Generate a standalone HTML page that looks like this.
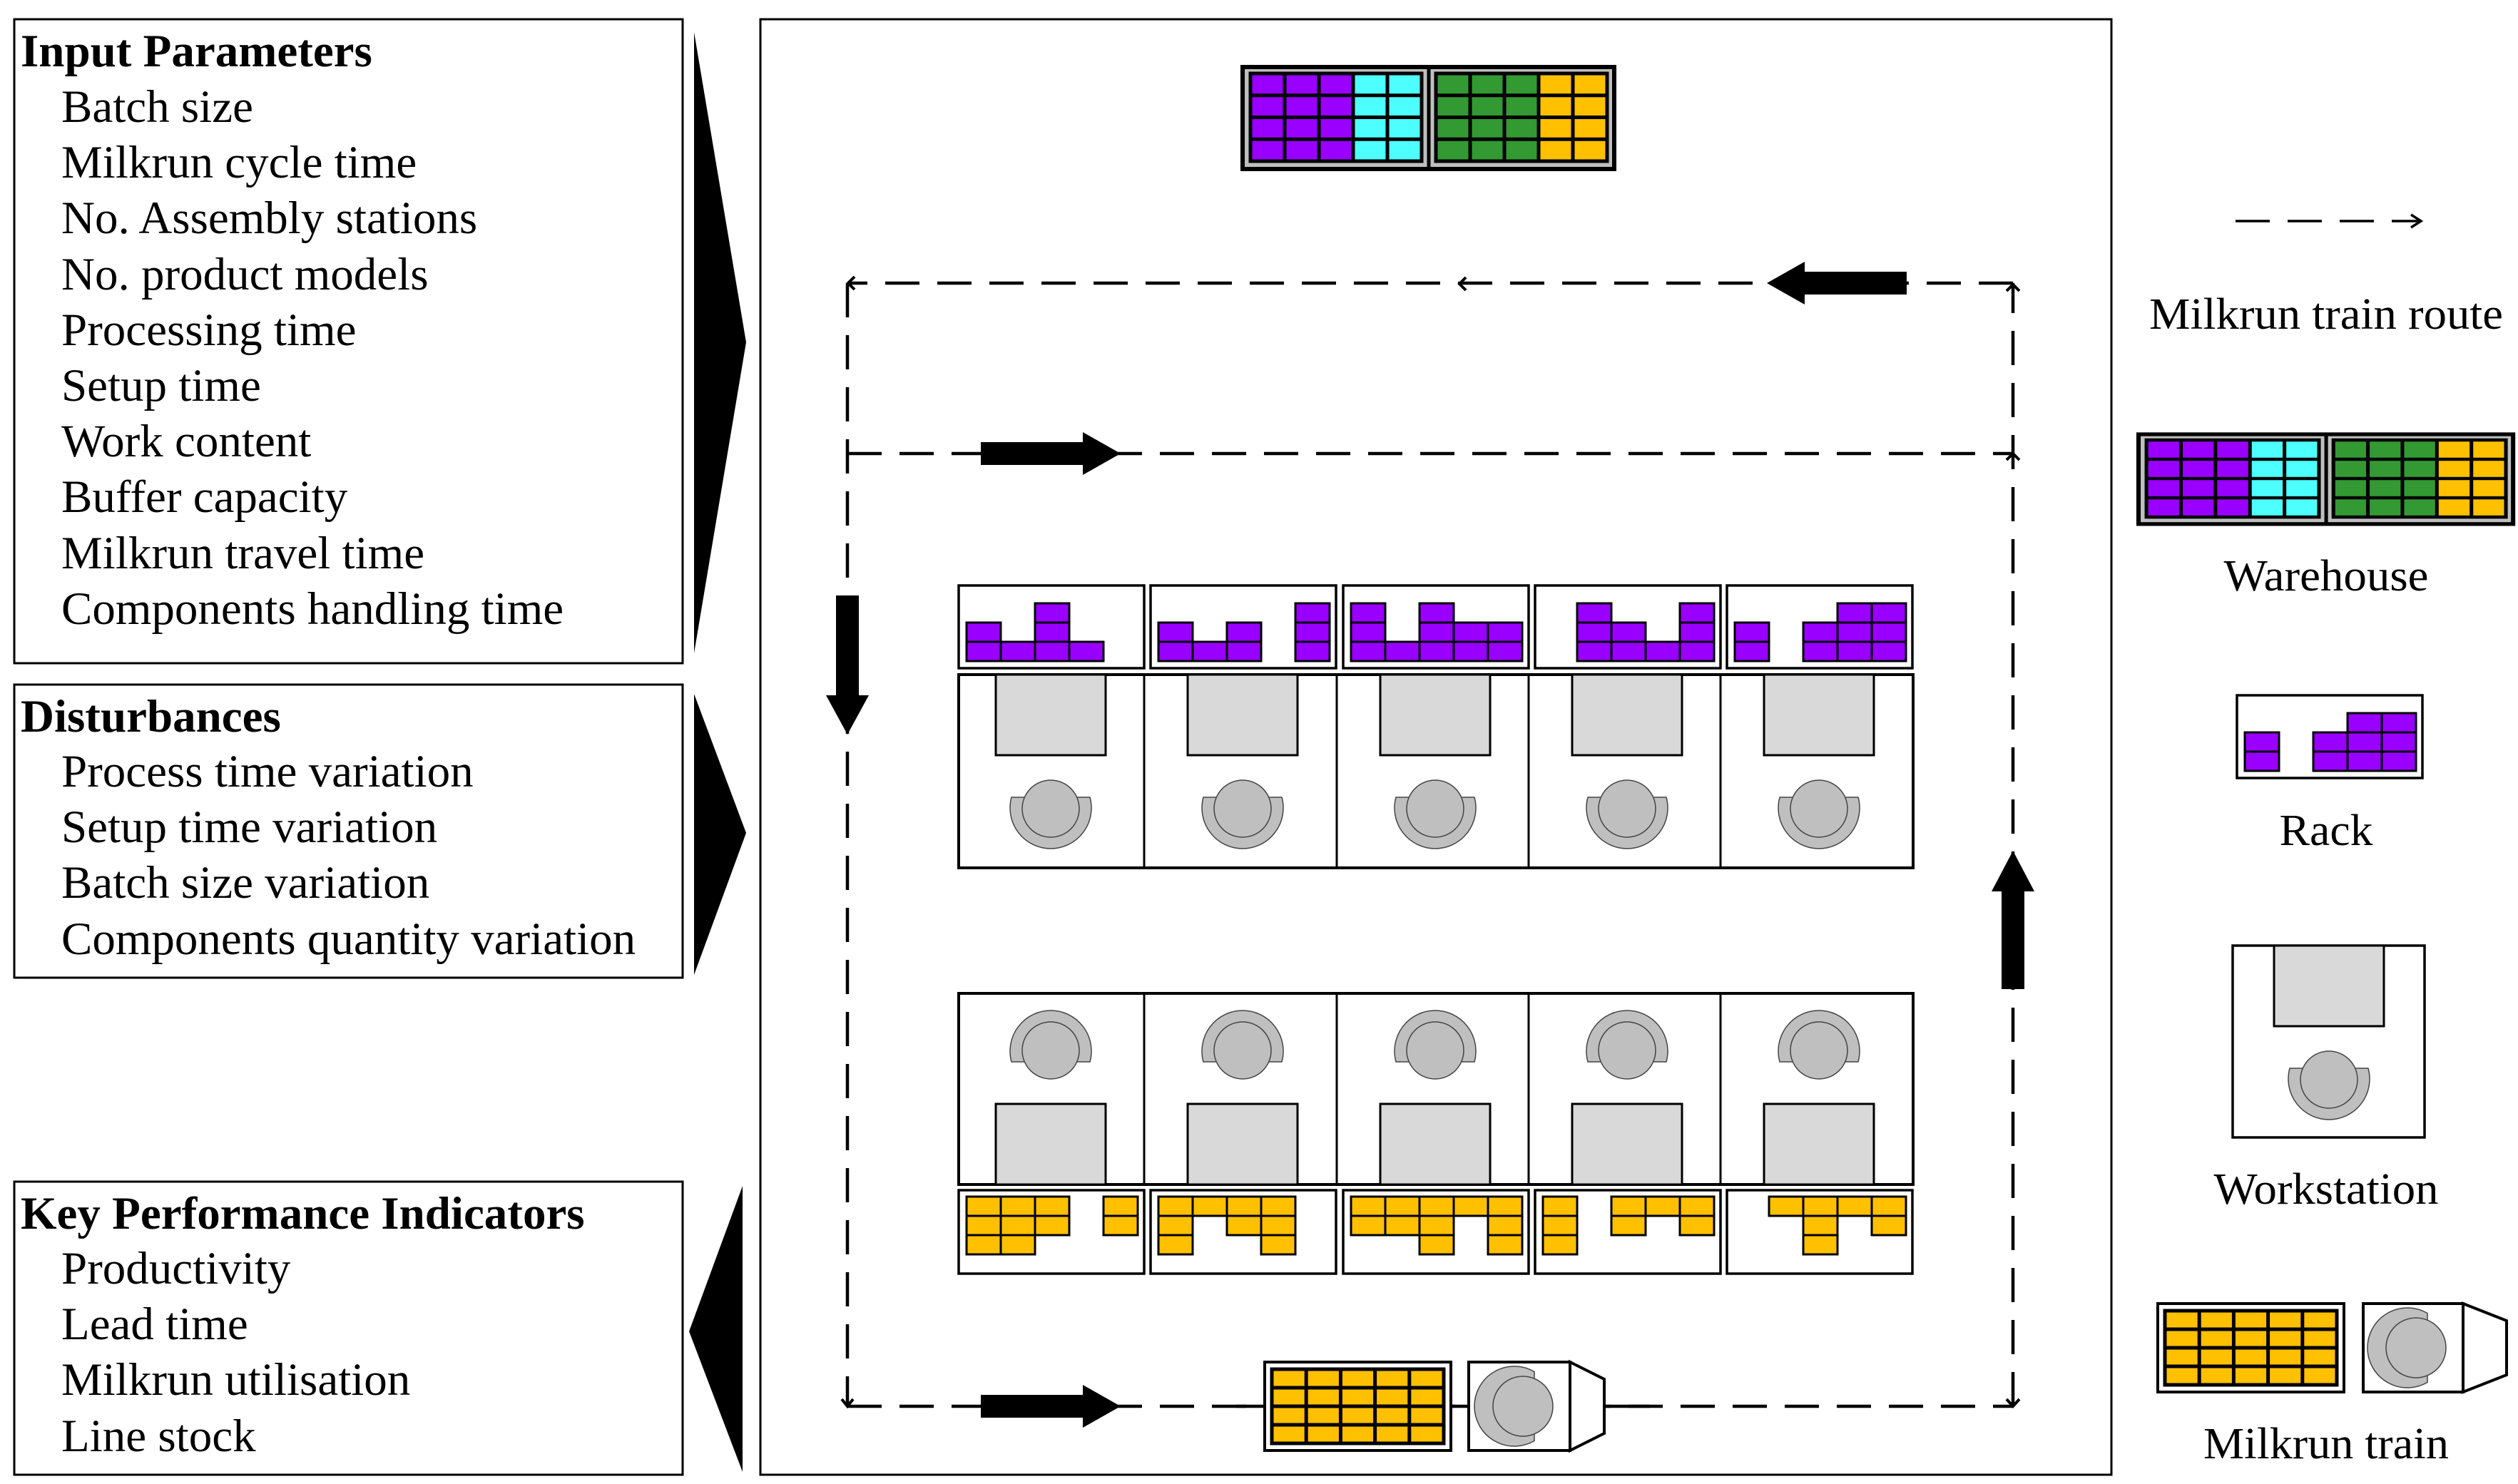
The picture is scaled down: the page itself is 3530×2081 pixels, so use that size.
<!DOCTYPE html>
<html><head><meta charset="utf-8"><style>
html,body{margin:0;padding:0;background:#fff}
svg{display:block}
text{font-family:"Liberation Serif",serif;fill:#000}
</style></head><body>
<svg width="3530" height="2081" viewBox="0 0 3530 2081" xmlns="http://www.w3.org/2000/svg">
<defs>
<pattern id="pp" patternUnits="userSpaceOnUse" x="11" y="0" width="48" height="27"><rect width="48" height="27" fill="#9900ff" stroke="#000" stroke-width="3"/></pattern>
<pattern id="yy" patternUnits="userSpaceOnUse" x="11" y="0" width="48" height="27"><rect width="48" height="27" fill="#ffc000" stroke="#000" stroke-width="3"/></pattern>
<pattern id="wp" patternUnits="userSpaceOnUse" x="0" y="0" width="48" height="30.75"><rect width="48" height="30.75" fill="#9900ff" stroke="#000" stroke-width="5"/></pattern>
<pattern id="wc" patternUnits="userSpaceOnUse" x="0" y="0" width="48" height="30.75"><rect width="48" height="30.75" fill="#4dffff" stroke="#000" stroke-width="5"/></pattern>
<pattern id="wg" patternUnits="userSpaceOnUse" x="0" y="0" width="48" height="30.75"><rect width="48" height="30.75" fill="#339933" stroke="#000" stroke-width="5"/></pattern>
<pattern id="wy" patternUnits="userSpaceOnUse" x="0" y="0" width="48" height="30.75"><rect width="48" height="30.75" fill="#ffc000" stroke="#000" stroke-width="5"/></pattern>
<pattern id="ty" patternUnits="userSpaceOnUse" x="0" y="0" width="48.2" height="26"><rect width="48.2" height="26" fill="#ffc000" stroke="#000" stroke-width="5"/></pattern>

<g id="wh">
<rect x="0" y="0" width="521" height="143" fill="#bfbfbf" stroke="#000" stroke-width="6"/>
<line x1="261" y1="0" x2="261" y2="143" stroke="#000" stroke-width="5"/>
<g transform="translate(11,9)"><rect width="144" height="123" fill="url(#wp)"/><rect x="144" width="96" height="123" fill="url(#wc)"/><rect width="240" height="123" fill="none" stroke="#000" stroke-width="5"/></g>
<g transform="translate(271,9)"><rect width="144" height="123" fill="url(#wg)"/><rect x="144" width="96" height="123" fill="url(#wy)"/><rect width="240" height="123" fill="none" stroke="#000" stroke-width="5"/></g>
</g>

<g id="cell">
<rect x="53" y="0" width="154" height="113" fill="#d9d9d9" stroke="#000" stroke-width="3"/>
<path d="M75,172 A57 57 0 1 0 185,172 Z" fill="#bfbfbf" stroke="#444" stroke-width="1.5"/>
<circle cx="130" cy="188" r="40" fill="#bfbfbf" stroke="#444" stroke-width="1.5"/>
</g>

<g id="train">
<line x1="-40" y1="62" x2="540" y2="62" stroke="#000" stroke-width="4.5"/>
<rect x="0" y="0" width="261" height="124" fill="#fff" stroke="#000" stroke-width="4"/>
<g transform="translate(10,10)"><rect width="241" height="104" fill="url(#ty)"/><rect width="241" height="104" fill="none" stroke="#000" stroke-width="5"/></g>
<rect x="286" y="0" width="142" height="124" fill="#fff" stroke="#000" stroke-width="4"/>
<polygon points="428,0 476,24 476,100 428,124" fill="#fff" stroke="#000" stroke-width="4"/>
<path d="M378,13.5 A56 56 0 1 0 378,110.5 Z" fill="#bfbfbf" stroke="#444" stroke-width="1.5"/>
<circle cx="362" cy="62" r="42" fill="#bfbfbf" stroke="#444" stroke-width="1.5"/>
</g>

<g id="r5">
<rect x="0" y="-106" width="260" height="116" fill="#fff" stroke="#000" stroke-width="3.5"/>
<g fill="url(#pp)" stroke="#000" stroke-width="3">
<rect x="11" y="-54" width="48" height="54"/><rect x="107" y="-54" width="48" height="54"/><rect x="155" y="-81" width="48" height="81"/><rect x="203" y="-81" width="48" height="81"/>
</g></g>
</defs>

<!-- Left panels -->
<g fill="#fff" stroke="#000" stroke-width="3">
<rect x="20" y="27" width="937" height="903"/>
<rect x="20" y="960" width="937" height="411"/>
<rect x="20" y="1657" width="937" height="411"/>
</g>
<g fill="#000">
<polygon points="973,45 1046,480 973,916"/>
<polygon points="973,973 1046,1168 973,1367"/>
<polygon points="1041,1663 966,1867 1041,2064"/>
</g>
<g font-size="65">
<text x="29" y="93" font-weight="bold">Input Parameters</text>
<text x="86" y="171">Batch size</text>
<text x="86" y="249">Milkrun cycle time</text>
<text x="86" y="327">No. Assembly stations</text>
<text x="86" y="406">No. product models</text>
<text x="86" y="484">Processing time</text>
<text x="86" y="562">Setup time</text>
<text x="86" y="640">Work content</text>
<text x="86" y="718">Buffer capacity</text>
<text x="86" y="797">Milkrun travel time</text>
<text x="86" y="875">Components handling time</text>
<text x="29" y="1026" font-weight="bold">Disturbances</text>
<text x="86" y="1103">Process time variation</text>
<text x="86" y="1181">Setup time variation</text>
<text x="86" y="1259">Batch size variation</text>
<text x="86" y="1338">Components quantity variation</text>
<text x="29" y="1723" font-weight="bold">Key Performance Indicators</text>
<text x="86" y="1800">Productivity</text>
<text x="86" y="1878">Lead time</text>
<text x="86" y="1956">Milkrun utilisation</text>
<text x="86" y="2035">Line stock</text>
</g>

<!-- Main box -->
<rect x="1066" y="27" width="1894" height="2041" fill="#fff" stroke="#000" stroke-width="3"/>
<use href="#wh" x="1742" y="94"/>

<!-- route -->
<g stroke="#000" stroke-width="4.5" fill="none" stroke-dasharray="48 25">
<line x1="2822" y1="397" x2="1188" y2="397"/>
<line x1="1188" y1="397" x2="1188" y2="1972"/>
<line x1="1188" y1="636" x2="2822" y2="636"/>
<line x1="2822" y1="1972" x2="2822" y2="397"/>
<line x1="1188" y1="1972" x2="2822" y2="1972"/>
</g>
<g stroke="#000" stroke-width="4" fill="none">
<polyline points="1198,388 1189,397 1198,406"/>
<polyline points="2055,389 2046,398 2055,407"/>
<polyline points="2813,408 2822,399 2831,408"/>
<polyline points="2813,645 2822,636 2831,645"/>
<polyline points="1180,1962 1188,1972 1196,1962"/>
<polyline points="2813,1962 2822,1972 2831,1962"/>
</g>
<g fill="#000">
<polygon points="2673,381 2530,381 2530,367 2477,397 2530,427 2530,413 2673,413"/>
<polygon points="1375,620 1518,620 1518,606 1571,636 1518,666 1518,652 1375,652"/>
<polygon points="1375,1956 1518,1956 1518,1942 1571,1972 1518,2002 1518,1988 1375,1988"/>
<polygon points="1172,835 1204,835 1204,975 1218,975 1188,1030 1158,975 1172,975"/>
<polygon points="2806,1387 2838,1387 2838,1250 2852,1250 2822,1193 2792,1250 2806,1250"/>
</g>

<!-- upper racks -->
<g transform="translate(1344,927)"><rect x="0" y="-106" width="260" height="116" fill="#fff" stroke="#000" stroke-width="3.5"/><g fill="url(#pp)" stroke="#000" stroke-width="3">
<rect x="11" y="-54" width="48" height="54"/><rect x="59" y="-27" width="48" height="27"/><rect x="107" y="-81" width="48" height="81"/><rect x="155" y="-27" width="48" height="27"/></g></g>
<g transform="translate(1613,927)"><rect x="0" y="-106" width="260" height="116" fill="#fff" stroke="#000" stroke-width="3.5"/><g fill="url(#pp)" stroke="#000" stroke-width="3">
<rect x="11" y="-54" width="48" height="54"/><rect x="59" y="-27" width="48" height="27"/><rect x="107" y="-54" width="48" height="54"/><rect x="203" y="-81" width="48" height="81"/></g></g>
<g transform="translate(1883,927)"><rect x="0" y="-106" width="260" height="116" fill="#fff" stroke="#000" stroke-width="3.5"/><g fill="url(#pp)" stroke="#000" stroke-width="3">
<rect x="11" y="-81" width="48" height="81"/><rect x="59" y="-27" width="48" height="27"/><rect x="107" y="-81" width="48" height="81"/><rect x="155" y="-54" width="48" height="54"/><rect x="203" y="-54" width="48" height="54"/></g></g>
<g transform="translate(2152,927)"><rect x="0" y="-106" width="260" height="116" fill="#fff" stroke="#000" stroke-width="3.5"/><g fill="url(#pp)" stroke="#000" stroke-width="3">
<rect x="59" y="-81" width="48" height="81"/><rect x="107" y="-54" width="48" height="54"/><rect x="155" y="-27" width="48" height="27"/><rect x="203" y="-81" width="48" height="81"/></g></g>
<use href="#r5" x="2421" y="927"/>

<!-- upper stations -->
<rect x="1344" y="946" width="1338" height="271" fill="#fff" stroke="#000" stroke-width="4"/>
<g stroke="#000" stroke-width="3"><line x1="1604" y1="946" x2="1604" y2="1217"/><line x1="1874" y1="946" x2="1874" y2="1217"/><line x1="2143" y1="946" x2="2143" y2="1217"/><line x1="2412" y1="946" x2="2412" y2="1217"/></g>
<use href="#cell" x="1343" y="946"/><use href="#cell" x="1612" y="946"/><use href="#cell" x="1882" y="946"/><use href="#cell" x="2151" y="946"/><use href="#cell" x="2420" y="946"/>

<!-- lower stations -->
<rect x="1344" y="1393" width="1338" height="268" fill="#fff" stroke="#000" stroke-width="4"/>
<g stroke="#000" stroke-width="3"><line x1="1604" y1="1393" x2="1604" y2="1661"/><line x1="1874" y1="1393" x2="1874" y2="1661"/><line x1="2143" y1="1393" x2="2143" y2="1661"/><line x1="2412" y1="1393" x2="2412" y2="1661"/></g>
<g transform="translate(0,3054) scale(1,-1)">
<use href="#cell" x="1343" y="1393"/><use href="#cell" x="1612" y="1393"/><use href="#cell" x="1882" y="1393"/><use href="#cell" x="2151" y="1393"/><use href="#cell" x="2420" y="1393"/>
</g>

<!-- lower racks -->
<g transform="translate(1344,1678)"><rect x="0" y="-9" width="260" height="117" fill="#fff" stroke="#000" stroke-width="3.5"/><g fill="url(#yy)" stroke="#000" stroke-width="3">
<rect x="11" y="0" width="48" height="81"/><rect x="59" y="0" width="48" height="81"/><rect x="107" y="0" width="48" height="54"/><rect x="203" y="0" width="48" height="54"/></g></g>
<g transform="translate(1613,1678)"><rect x="0" y="-9" width="260" height="117" fill="#fff" stroke="#000" stroke-width="3.5"/><g fill="url(#yy)" stroke="#000" stroke-width="3">
<rect x="11" y="0" width="48" height="81"/><rect x="59" y="0" width="48" height="27"/><rect x="107" y="0" width="48" height="54"/><rect x="155" y="0" width="48" height="81"/></g></g>
<g transform="translate(1883,1678)"><rect x="0" y="-9" width="260" height="117" fill="#fff" stroke="#000" stroke-width="3.5"/><g fill="url(#yy)" stroke="#000" stroke-width="3">
<rect x="11" y="0" width="48" height="54"/><rect x="59" y="0" width="48" height="54"/><rect x="107" y="0" width="48" height="81"/><rect x="155" y="0" width="48" height="27"/><rect x="203" y="0" width="48" height="81"/></g></g>
<g transform="translate(2152,1678)"><rect x="0" y="-9" width="260" height="117" fill="#fff" stroke="#000" stroke-width="3.5"/><g fill="url(#yy)" stroke="#000" stroke-width="3">
<rect x="11" y="0" width="48" height="81"/><rect x="107" y="0" width="48" height="54"/><rect x="155" y="0" width="48" height="27"/><rect x="203" y="0" width="48" height="54"/></g></g>
<g transform="translate(2421,1678)"><rect x="0" y="-9" width="260" height="117" fill="#fff" stroke="#000" stroke-width="3.5"/><g fill="url(#yy)" stroke="#000" stroke-width="3">
<rect x="59" y="0" width="48" height="27"/><rect x="107" y="0" width="48" height="81"/><rect x="155" y="0" width="48" height="27"/><rect x="203" y="0" width="48" height="54"/></g></g>

<!-- train on route -->
<use href="#train" x="1773" y="1910"/>

<!-- Legend -->
<g stroke="#000" stroke-width="3.5" fill="none">
<line x1="3134" y1="310" x2="3394" y2="310" stroke-dasharray="48 25"/>
<polyline points="3380,301 3394,310 3380,319"/>
</g>
<text x="3261" y="461" font-size="62" text-anchor="middle" textLength="496" lengthAdjust="spacingAndGlyphs">Milkrun train route</text>
<g transform="translate(2998,609) scale(1.008,0.88)"><use href="#wh"/></g>
<text x="3261" y="828" font-size="62" text-anchor="middle" textLength="287" lengthAdjust="spacingAndGlyphs">Warehouse</text>
<use href="#r5" x="3136" y="1081"/>
<text x="3261" y="1185" font-size="62" text-anchor="middle" textLength="131" lengthAdjust="spacingAndGlyphs">Rack</text>
<rect x="3130" y="1326" width="269" height="269" fill="#fff" stroke="#000" stroke-width="3.5"/>
<g transform="translate(3135,1326)"><use href="#cell"/></g>
<text x="3261" y="1688" font-size="62" text-anchor="middle" textLength="315" lengthAdjust="spacingAndGlyphs">Workstation</text>
<g transform="translate(3025,1828)">
<rect x="0" y="0" width="261" height="124" fill="#fff" stroke="#000" stroke-width="4"/>
<g transform="translate(10,10)"><rect width="241" height="104" fill="url(#ty)"/><rect width="241" height="104" fill="none" stroke="#000" stroke-width="5"/></g>
<rect x="288" y="0" width="140" height="124" fill="#fff" stroke="#000" stroke-width="4"/>
<polygon points="428,0 489,24 489,100 428,124" fill="#fff" stroke="#000" stroke-width="4"/>
<path d="M378,13.5 A56 56 0 1 0 378,110.5 Z" fill="#bfbfbf" stroke="#444" stroke-width="1.5"/>
<circle cx="362" cy="62" r="42" fill="#bfbfbf" stroke="#444" stroke-width="1.5"/>
</g>
<text x="3261" y="2045" font-size="62" text-anchor="middle" textLength="344" lengthAdjust="spacingAndGlyphs">Milkrun train</text>
</svg>
</body></html>
